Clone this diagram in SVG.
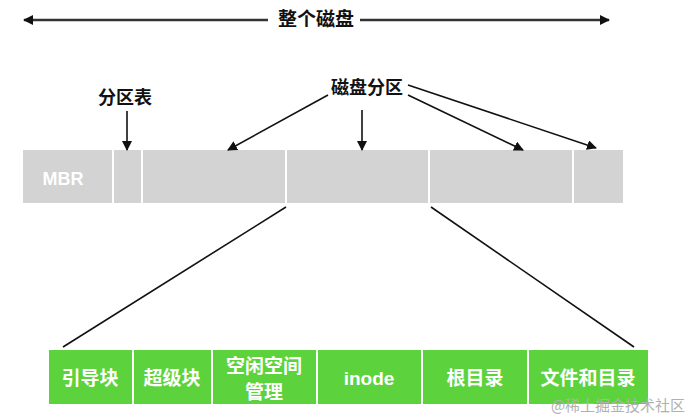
<svg xmlns="http://www.w3.org/2000/svg" width="689" height="419" viewBox="0 0 689 419">
<defs>
<marker id="ah" viewBox="0 0 10 10" refX="9" refY="5" markerWidth="10" markerHeight="10" markerUnits="userSpaceOnUse" orient="auto-start-reverse">
<path d="M0,0 L10,5 L0,10 z" fill="#111"/>
</marker>
<style>
.lbl{font-family:"Noto Sans CJK SC","Liberation Sans",sans-serif;font-weight:600;fill:#111;text-anchor:middle}
.cell{fill:#d3d3d3}
.g{fill:#5cd33d}
.gt{font-family:"Liberation Sans","Noto Sans CJK SC",sans-serif;font-weight:600;fill:#fff;font-size:19px;text-anchor:middle}
.ln{stroke:#111;stroke-width:1.6;fill:none}
</style>
</defs>
<rect width="689" height="419" fill="#fff"/>
<g id="disk-label">
<text class="lbl" x="316" y="26" font-size="19">整个磁盘</text>
</g>
<g id="disk-bar">
<rect class="cell" x="23" y="150" width="89" height="53"/>
<rect class="cell" x="114" y="150" width="27" height="53"/>
<rect class="cell" x="143" y="150" width="142" height="53"/>
<rect class="cell" x="287" y="150" width="141" height="53"/>
<rect class="cell" x="430" y="150" width="142" height="53"/>
<rect class="cell" x="574" y="150" width="49" height="53"/>
<text x="63" y="185" font-family="Liberation Sans,Arial,sans-serif" font-weight="bold" font-size="18" fill="#fff" text-anchor="middle">MBR</text>
</g>
<g id="ptable-label">
<text class="lbl" x="125" y="104" font-size="18">分区表</text>
</g>
<g id="partition-label">
<text class="lbl" x="367" y="94" font-size="18">磁盘分区</text>
</g>
<g id="fs-blocks">
<rect class="g" x="49" y="350" width="83" height="54"/>
<rect class="g" x="134" y="350" width="77" height="54"/>
<rect class="g" x="213" y="350" width="103" height="54"/>
<rect class="g" x="318" y="350" width="103" height="54"/>
<rect class="g" x="423" y="350" width="104" height="54"/>
<rect class="g" x="529" y="350" width="119" height="54"/>
<text class="gt" x="90" y="385">引导块</text>
<text class="gt" x="172" y="385">超级块</text>
<text class="gt" x="264" y="373">空闲空间</text>
<text class="gt" x="264" y="399">管理</text>
<text class="gt" x="369" y="385" font-weight="bold">inode</text>
<text class="gt" x="475" y="385">根目录</text>
<text class="gt" x="588" y="385">文件和目录</text>
</g>
<g id="connectors">
<line x1="268" y1="20" x2="24" y2="20" stroke="#333" stroke-width="2.5" marker-end="url(#ah)"/>
<line x1="360" y1="20" x2="609" y2="20" stroke="#333" stroke-width="2.5" marker-end="url(#ah)"/>
<line class="ln" x1="127" y1="111" x2="127" y2="150" marker-end="url(#ah)"/>
<line class="ln" x1="328" y1="95" x2="228" y2="150" marker-end="url(#ah)"/>
<line class="ln" x1="362" y1="110" x2="362" y2="150" marker-end="url(#ah)"/>
<line class="ln" x1="408" y1="95" x2="523" y2="150" marker-end="url(#ah)"/>
<line class="ln" x1="408" y1="85" x2="596" y2="148" marker-end="url(#ah)"/>
<line class="ln" x1="286" y1="207" x2="63" y2="347"/>
<line class="ln" x1="431" y1="207" x2="634" y2="347"/>
</g>
<text x="618" y="411" font-family="Noto Sans CJK SC,sans-serif" font-size="15" fill="#b0b0b0" text-anchor="middle">@稀土掘金技术社区</text>
</svg>
